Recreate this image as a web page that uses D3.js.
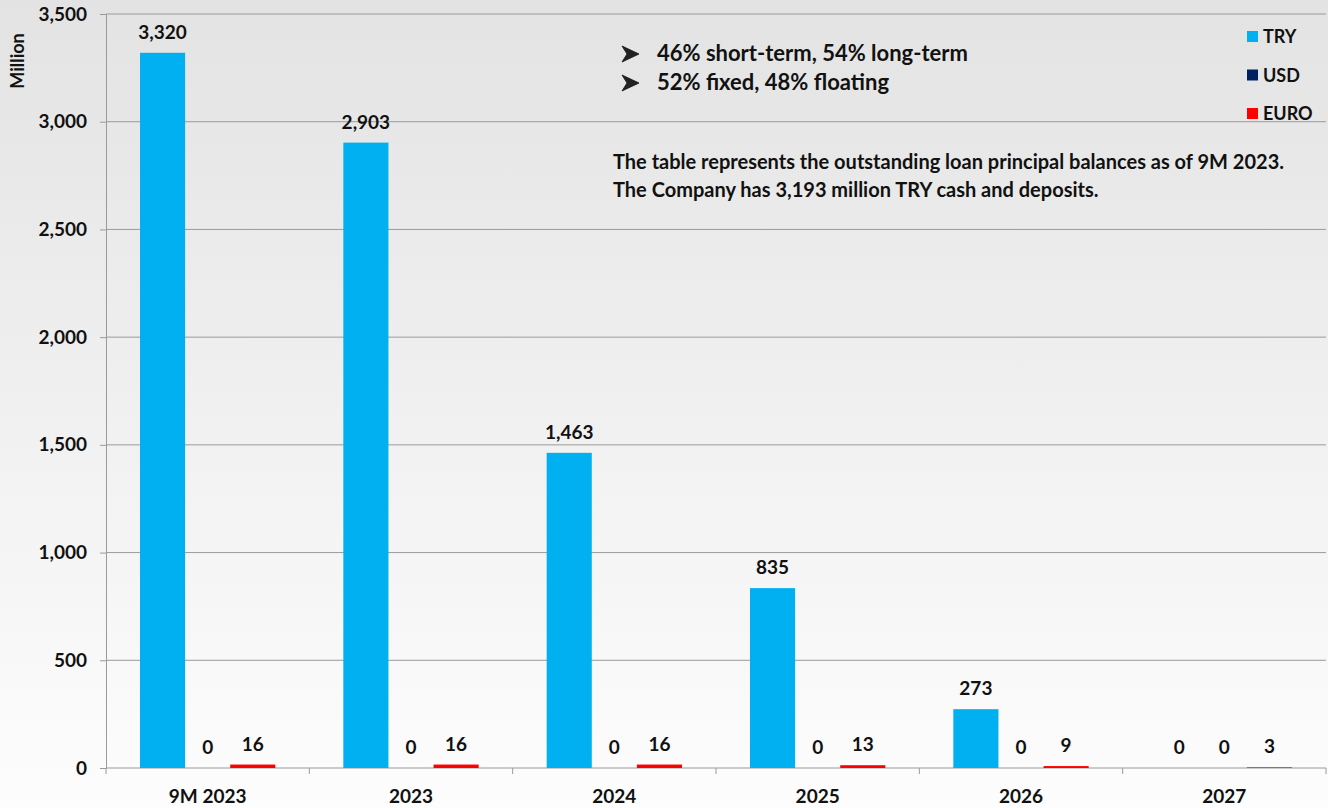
<!DOCTYPE html>
<html>
<head>
<meta charset="utf-8">
<script src="https://cdn.jsdelivr.net/npm/d3@7"></script>
<style>
  html, body { margin: 0; padding: 0; }
  body { width: 1328px; height: 808px; overflow: hidden; }
  text { font-family: Lato, "Open Sans", sans-serif; font-weight: bold; fill: #111; }
</style>
</head>
<body>
<div id="chart"></div>
<script>
// chart data
const categories = ["9M 2023", "2023", "2024", "2025", "2026", "2027"];
const seriesNames = ["TRY", "USD", "EURO"];
const tryValues = [3320, 2903, 1463, 835, 273, 0];
const usdValues = [0, 0, 0, 0, 0, 0];
const euroValues = [16, 16, 16, 13, 9, 3];
const yTicks = [0, 500, 1000, 1500, 2000, 2500, 3000, 3500];
const bulletNotes = ["46% short-term, 54% long-term", "52% fixed, 48% floating"];
const noteLines = ["The table represents the outstanding loan principal balances as of 9M 2023.",
                   "The Company has 3,193 million TRY cash and deposits."];

const colors = { TRY: "#00b0f0", USD: "#002060", EURO: "#ff0000" };

const width = 1328;
const height = 808;
const margin = { top: 14, right: 2, bottom: 40, left: 106 };
const innerW = width - margin.left - margin.right;
const innerH = height - margin.top - margin.bottom;

const svg = d3.select("#chart").append("svg")
    .attr("width", width)
    .attr("height", height);

// light grey to white background
const grad = svg.append("defs").append("linearGradient")
    .attr("id", "bg").attr("x1", 0).attr("y1", 0).attr("x2", 0).attr("y2", 1);
grad.append("stop").attr("offset", "0%").attr("stop-color", "#e3e3e3");
grad.append("stop").attr("offset", "100%").attr("stop-color", "#fdfdfd");
svg.append("rect").attr("width", width).attr("height", height).attr("fill", "url(#bg)");

const g = svg.append("g").attr("transform", `translate(${margin.left},${margin.top})`);

const x0 = d3.scaleBand().domain(categories).range([0, innerW]).paddingInner(0).paddingOuter(0);
const x1 = d3.scaleBand().domain(seriesNames).range([34, x0.bandwidth() - 34]);
const y = d3.scaleLinear().domain([0, 3500]).range([innerH, 0]);

// gridlines
g.selectAll(".grid").data(yTicks.filter(d => d > 0)).enter()
    .append("line")
    .attr("x1", 0).attr("x2", innerW)
    .attr("y1", d => y(d)).attr("y2", d => y(d))
    .attr("stroke", "#9a9a9a").attr("stroke-width", 1);

// y axis
const yAxis = g.append("g")
    .call(d3.axisLeft(y).tickValues(yTicks).tickSize(6).tickPadding(13).tickFormat(d3.format(",")));
yAxis.select(".domain").attr("stroke", "#9a9a9a");
yAxis.selectAll(".tick line").attr("stroke", "#9a9a9a");
yAxis.selectAll("text").style("font-size", "19px").attr("fill", "#111");

// x axis line with ticks on category boundaries
g.append("line").attr("x1", 0).attr("x2", innerW).attr("y1", innerH).attr("y2", innerH)
    .attr("stroke", "#9a9a9a");
g.selectAll(".xtick").data(categories.concat(["end"])).enter()
    .append("line")
    .attr("x1", (d, i) => i * x0.step()).attr("x2", (d, i) => i * x0.step())
    .attr("y1", innerH).attr("y2", innerH + 6)
    .attr("stroke", "#9a9a9a");
g.selectAll(".xlabel").data(categories).enter()
    .append("text")
    .attr("x", d => x0(d) + x0.bandwidth() / 2)
    .attr("y", innerH + 35)
    .attr("text-anchor", "middle")
    .style("font-size", "19px")
    .text(d => d);

// grouped bars
const rows = categories.map((c, i) => ({
    cat: c,
    values: [
        { key: "TRY", value: tryValues[i] },
        { key: "USD", value: usdValues[i] },
        { key: "EURO", value: euroValues[i] }
    ]
}));

const groups = g.selectAll(".grp").data(rows).enter()
    .append("g")
    .attr("transform", d => `translate(${x0(d.cat)},0)`);

groups.selectAll("rect").data(d => d.values).enter()
    .append("rect")
    .attr("x", d => x1(d.key))
    .attr("width", x1.bandwidth())
    .attr("y", d => y(d.value))
    .attr("height", d => innerH - y(d.value))
    .attr("fill", d => colors[d.key]);

// value labels, zeros sit a bit lower
groups.selectAll(".val").data(d => d.values).enter()
    .append("text")
    .attr("x", d => x1(d.key) + x1.bandwidth() / 2)
    .attr("y", d => d.value === 0 ? innerH - 14 : y(d.value) - 14)
    .attr("text-anchor", "middle")
    .style("font-size", "19px")
    .text(d => d3.format(",")(d.value));

// y axis title
svg.append("text")
    .attr("transform", "translate(24,61) rotate(-90)")
    .attr("text-anchor", "middle")
    .style("font-size", "18px")
    .text("Million");

// legend
const legend = svg.append("g").attr("transform", "translate(1247,31)");
seriesNames.forEach((s, i) => {
    legend.append("rect")
        .attr("x", 0).attr("y", i * 38.5)
        .attr("width", 11).attr("height", 11)
        .attr("fill", colors[s]);
    legend.append("text")
        .attr("x", 16).attr("y", i * 38.5 + 12)
        .style("font-size", "18px")
        .text(s);
});

// bullet notes with arrowhead markers
bulletNotes.forEach((t, i) => {
    svg.append("path")
        .attr("transform", `translate(622,${54 + i * 29})`)
        .attr("d", "M0,-8 L17,0 L0,8 L5,0 Z")
        .attr("fill", "#222").attr("stroke", "#111").attr("stroke-width", 0.8);
    svg.append("text").attr("x", 657).attr("y", 61 + i * 29)
        .style("font-size", "22px").text(t);
});

noteLines.forEach((t, i) => {
    svg.append("text").attr("x", 613).attr("y", 169 + i * 28)
        .style("font-size", "20px").text(t);
});
</script>
</body>
</html>
